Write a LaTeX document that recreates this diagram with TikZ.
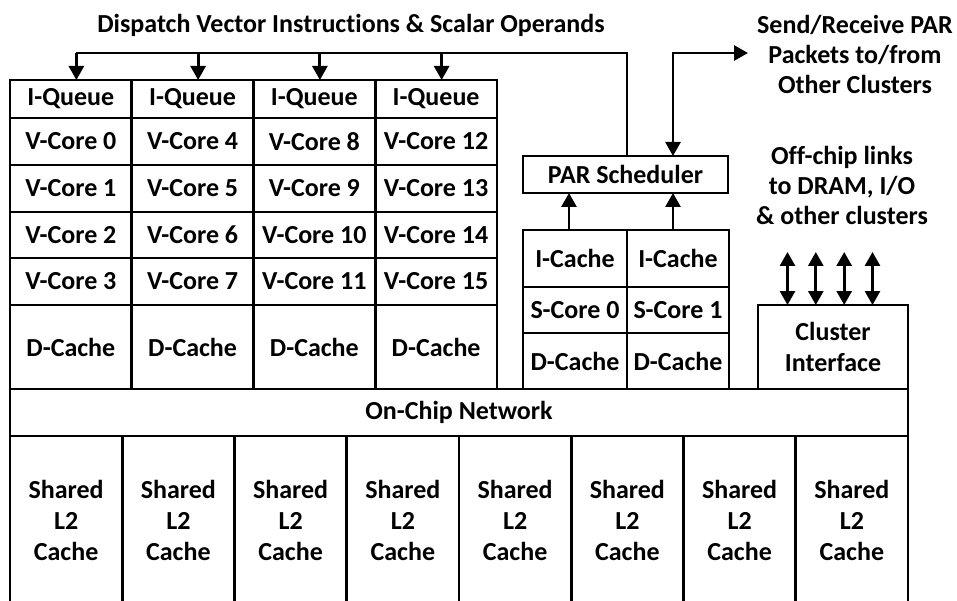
\documentclass[tikz,border=0pt]{standalone}
\usepackage{fontspec}
\setmainfont{Carlito}[Ligatures=NoCommon]
\usetikzlibrary{arrows.meta}
\begin{document}
\begin{tikzpicture}[x=1pt,y=-1pt,line width=2.8pt,
  cell/.style={draw,line width=2.8pt,anchor=north west,inner sep=0pt,outer sep=0pt,
    align=center,font=\fontsize{26}{31}\selectfont\bfseries},
  bare/.style={cell,draw=none},
  lab/.style={align=center,inner sep=0pt,font=\fontsize{26}{30}\selectfont\bfseries},
  tip/.style={-{Triangle[length=14pt,width=15pt]}},
  tips/.style={{Triangle[length=14pt,width=15pt]}-{Triangle[length=14pt,width=15pt]}}]
\useasboundingbox (0,0) rectangle (957,601);

% vector cores: four columns of I-Queue, V-Cores and D-Cache
\foreach \c in {0,...,3}{
  \pgfmathsetmacro{\cx}{10+121.75*\c}
  \node[cell,minimum width=121.75pt,minimum height=38pt] (iq\c) at (\cx,80) {I-Queue};
  \foreach \r/\y/\h in {0/118/47,1/165/47,2/212/46,3/258/47}{
    \pgfmathtruncatemacro{\n}{4*\c+\r}
    \node[cell,minimum width=121.75pt,minimum height=\h pt] (vc\n) at (\cx,\y) {V-Core \n};
  }
  \node[cell,minimum width=121.75pt,minimum height=84pt] (dc\c) at (\cx,305) {D-Cache};
}

% scalar cores
\node[cell,minimum width=104pt,minimum height=57pt] (sic0) at (523,230) {I-Cache};
\node[cell,minimum width=102pt,minimum height=57pt] (sic1) at (627,230) {I-Cache};
\node[cell,minimum width=104pt,minimum height=46pt] (ssc0) at (523,287) {S-Core 0};
\node[cell,minimum width=102pt,minimum height=46pt] (ssc1) at (627,287) {S-Core 1};
\node[cell,minimum width=104pt,minimum height=56pt] (sdc0) at (523,333) {D-Cache};
\node[cell,minimum width=102pt,minimum height=56pt] (sdc1) at (627,333) {D-Cache};

% scheduler and cluster interface
\node[cell,minimum width=205pt,minimum height=37pt] (par) at (523,156) {PAR Scheduler};
\node[cell,minimum width=150pt,minimum height=84pt] (ci) at (758,305) {Cluster\\Interface};

% network and shared L2 banks
\node[cell,minimum width=898pt,minimum height=47pt] (noc) at (10,389) {On-Chip Network};
\foreach \k in {0,...,7}{
  \pgfmathsetmacro{\lx}{10+112.25*\k}
  \node[bare,minimum width=112.25pt,minimum height=168pt] (l2\k) at (\lx,436) {Shared\\L2\\Cache};
  \draw (l2\k.north west) -- (l2\k.south west);
}
\draw (l27.north east) -- (l27.south east);

% labels
\node[lab] (dispatch) at (351,25) {Dispatch Vector Instructions \& Scalar Operands};
\node[lab] (sendrecv) at (855,54) {Send/Receive PAR\\Packets to/from\\Other Clusters};
\node[lab] (offchip) at (842,185) {Off-chip links\\to DRAM, I/O\\\& other clusters};

% dispatch bus from the scheduler to the I-Queues
\coordinate (busy) at (0,53);
\coordinate (parout) at ([xshift=1.5pt]par.north);
\coordinate (d0) at ([xshift=5.5pt]iq0.north);
\draw (parout) -- (parout |- busy) -- (d0 |- busy);
\foreach \c in {0,...,3}{
  \coordinate (d\c) at ([xshift=5.5pt]iq\c.north);
  \draw[tip] (d\c |- busy) -- (d\c);
}

% scheduler link to other clusters
\coordinate (sendend) at (748,53);
\coordinate (pB) at ([xshift=-5pt]sic1.north);
\draw[tips] (sendend) -- (pB |- busy) -- (pB |- par.north);
\draw[tip] (pB) -- (pB |- par.south);
\coordinate (pA) at ([xshift=-6pt]sic0.north);
\draw[tip] (pA) -- (pA |- par.south);

% off-chip links
\foreach \dx [count=\i] in {-45.5,-17.2,11.2,39.5}{
  \coordinate (ci\i) at ([xshift=\dx pt]ci.north);
  \coordinate (oc\i) at ([yshift=53pt]ci\i);
  \draw[tips] (oc\i) -- (ci\i);
}
\end{tikzpicture}
\end{document}
